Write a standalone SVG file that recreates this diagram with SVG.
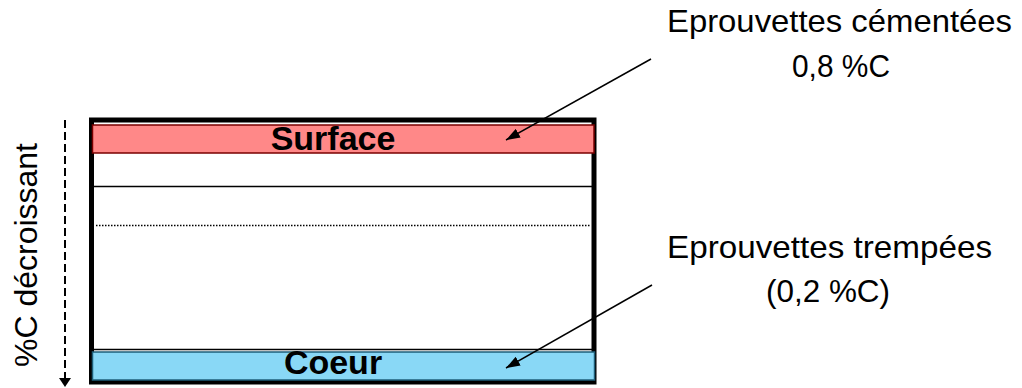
<svg xmlns="http://www.w3.org/2000/svg" width="1022" height="388" viewBox="0 0 1022 388">
<style>
.t{font-family:"Liberation Sans",Arial,sans-serif;font-size:32px;fill:#000}
.b{font-family:"Liberation Sans",Arial,sans-serif;font-size:34px;font-weight:bold;fill:#000;text-anchor:middle}
.c{text-anchor:middle}
.ln{stroke:#000;fill:none}
</style>
<defs>
<marker id="ah" viewBox="0 0 10 10" refX="10" refY="5" markerWidth="10" markerHeight="7" markerUnits="userSpaceOnUse" orient="auto" preserveAspectRatio="none">
<path d="M0,0 L10,5 L0,10 z" fill="#000"/>
</marker>
<marker id="ah2" viewBox="0 0 10 10" refX="10" refY="5" markerWidth="14" markerHeight="10" markerUnits="userSpaceOnUse" orient="auto" preserveAspectRatio="none">
<path d="M0,0 L10,5 L0,10 z" fill="#000"/>
</marker>
</defs>
<rect width="1022" height="388" fill="#fff"/>
<g id="sample">
<rect x="91.5" y="120" width="502.5" height="262" fill="#fff" stroke="#000" stroke-width="5"/>
<line class="ln" x1="93" y1="186.5" x2="593" y2="186.5" stroke-width="1.5"/>
<line class="ln" x1="96" y1="225.5" x2="590" y2="225.5" stroke-width="1.5" stroke-dasharray="1.5 1.5"/>
<line class="ln" x1="93" y1="349.5" x2="593" y2="349.5" stroke-width="1.5"/>
</g>
<g id="surface">
<rect x="92.5" y="125" width="501.5" height="28" fill="#FF8888" stroke="#7A0000" stroke-width="1.5"/>
<text class="b" x="333" y="150">Surface</text>
</g>
<g id="coeur">
<rect x="92.5" y="352" width="502" height="28" fill="#89D8F6" stroke="#1E5E78" stroke-width="1.5"/>
<text class="b" x="333" y="374">Coeur</text>
</g>
<g id="label-cementees">
<text class="t" x="667" y="32" textLength="345" lengthAdjust="spacingAndGlyphs">Eprouvettes cémentées</text>
<text class="t c" x="841" y="77" textLength="98" lengthAdjust="spacingAndGlyphs">0,8 %C</text>
</g>
<g id="label-trempees">
<text class="t" x="667" y="258" textLength="325" lengthAdjust="spacingAndGlyphs">Eprouvettes trempées</text>
<text class="t c" x="828" y="302" textLength="124" lengthAdjust="spacingAndGlyphs">(0,2 %C)</text>
</g>
<g id="axis-label">
<text class="t c" transform="translate(37,255) rotate(-90)" textLength="224" lengthAdjust="spacingAndGlyphs">%C décroissant</text>
</g>
<g id="connectors">
<line class="ln" x1="651" y1="59" x2="506" y2="140" stroke-width="1.5" marker-end="url(#ah2)"/>
<line class="ln" x1="652" y1="285" x2="506" y2="368" stroke-width="1.5" marker-end="url(#ah2)"/>
<line class="ln" x1="65" y1="120" x2="65" y2="379" stroke-width="2" stroke-dasharray="8 4"/>
<path d="M59,378 L71,378 L65,387 z" fill="#000"/>
</g>
</svg>
